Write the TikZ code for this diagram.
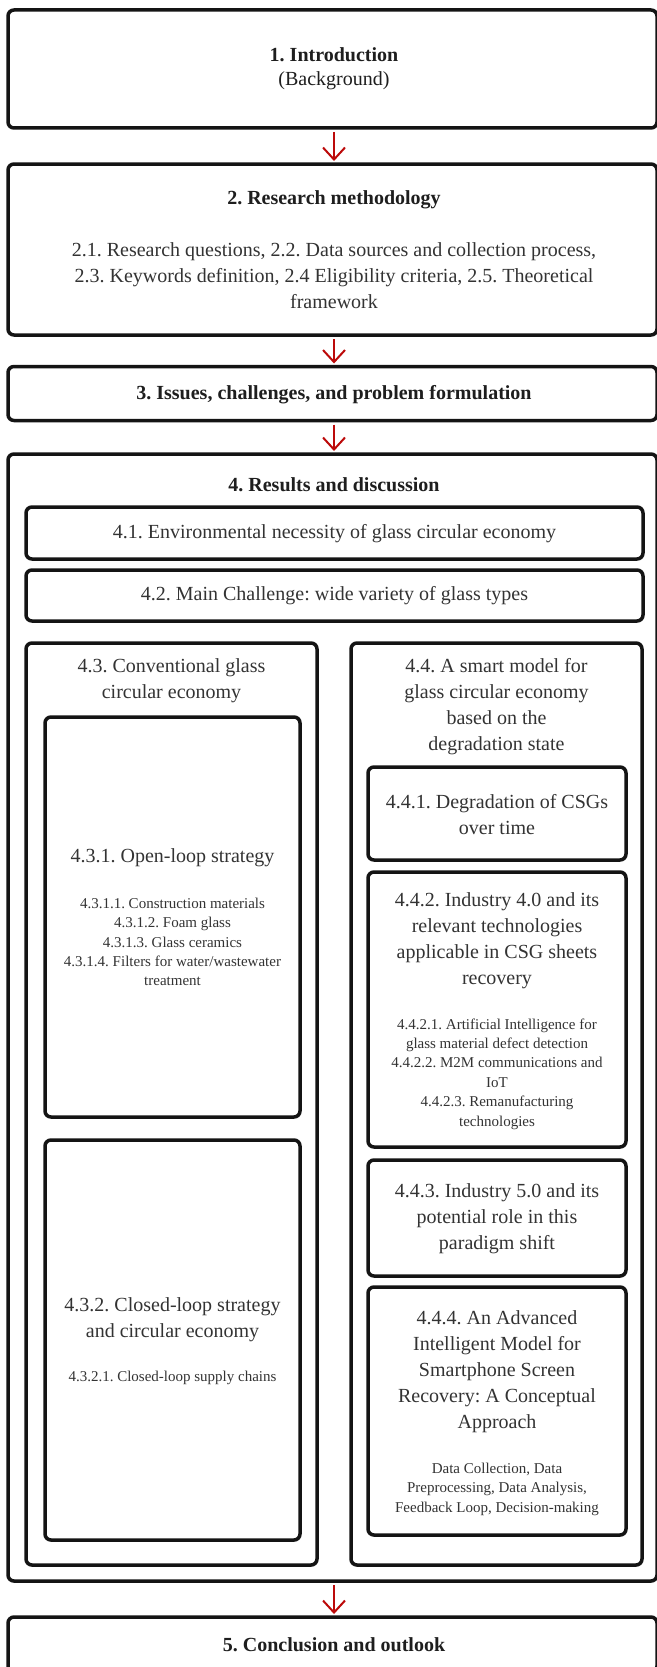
\documentclass[tikz,border=0pt]{standalone}
\usepackage{fontspec}
\setmainfont{Liberation Serif}
\usetikzlibrary{arrows.meta}
\definecolor{arrowred}{HTML}{BC0A0A}
\definecolor{txt}{HTML}{333333}
\definecolor{headc}{HTML}{1E1E1E}
\frenchspacing
\begin{document}
\begin{tikzpicture}[x=1pt,y=-1pt,
  box/.style={draw=black!92, line width=3.5pt, rounded corners=6pt, inner sep=0pt, outer sep=0pt},
  big/.style={font=\fontsize{20}{26}\selectfont, text=txt, align=center, inner sep=0pt},
  head/.style={font=\fontsize{20}{25}\selectfont\bfseries, text=headc, align=center, inner sep=0pt},
  small/.style={font=\fontsize{15}{19.4}\selectfont, text=txt, align=center, inner sep=0pt},
  flow/.style={draw=arrowred, line width=2pt, shorten <=4pt, shorten >=3pt,
    -{Straight Barb[length=12pt,width=22pt,line width=2pt]}}
]
\useasboundingbox (0,0) rectangle (656,1667);
\fill[white] (0,0) rectangle (656,1667);
\coordinate (ax) at (334,0);

% outer boxes
\node[box, minimum width=649pt, minimum height=118pt] (b1) at (332.5,69) {};
\node[box, minimum width=649pt, minimum height=171pt] (b2) at (332.5,249.5) {};
\node[box, minimum width=649pt, minimum height=54pt] (b3) at (332.5,393.5) {};
\node[box, minimum width=649pt, minimum height=1127pt] (b4) at (332.5,1017.5) {};
\node[box, minimum width=649pt, minimum height=55pt] (b5) at (332.5,1644.5) {};

% inner boxes
\node[box, minimum width=617pt, minimum height=52pt] (b41) at (334.5,533) {};
\node[box, minimum width=617pt, minimum height=51pt] (b42) at (334.5,595.5) {};
\node[box, minimum width=291pt, minimum height=922pt] (b43) at (171.5,1104) {};
\node[box, minimum width=291pt, minimum height=922pt] (b44) at (496.5,1104) {};
\node[box, minimum width=255pt, minimum height=400pt] (b431) at (172.5,917) {};
\node[box, minimum width=255pt, minimum height=400pt] (b432) at (172.5,1340) {};
\node[box, minimum width=258pt, minimum height=93pt] (b441) at (497,813.5) {};
\node[box, minimum width=258pt, minimum height=275pt] (b442) at (497,1009.5) {};
\node[box, minimum width=258pt, minimum height=116pt] (b443) at (497,1218) {};
\node[box, minimum width=258pt, minimum height=248pt] (b444) at (497,1411) {};

% texts
\node[head] (t1) at (334,69) {1. Introduction\\[-1pt]\mdseries (Background)};
\node[head] (t2h) at (334,200) {2. Research methodology};
\node[big] (t2) at (334,276) {2.1. Research questions, 2.2. Data sources and collection process,\\2.3. Keywords definition, 2.4 Eligibility criteria, 2.5. Theoretical\\framework};
\node[head] (t3) at (334,395) {3. Issues, challenges, and problem formulation};
\node[head] (t4) at (334,485) {4. Results and discussion};
\node[big] (t41) at (334.5,534) {4.1. Environmental necessity of glass circular economy};
\node[big] (t42) at (334.5,596) {4.2. Main Challenge: wide variety of glass types};
\node[big] (t43) at (171.5,681) {4.3. Conventional glass\\circular economy};
\node[big] (t431) at (172.5,858) {4.3.1. Open-loop strategy};
\node[small] (t431s) at (172.5,942) {4.3.1.1. Construction materials\\4.3.1.2. Foam glass\\4.3.1.3. Glass ceramics\\4.3.1.4. Filters for water/wastewater\\treatment};
\node[big] (t432) at (172.5,1320) {4.3.2. Closed-loop strategy\\and circular economy};
\node[small] (t432s) at (172.5,1378) {4.3.2.1. Closed-loop supply chains};
\node[big] (t44) at (496.5,707) {4.4. A smart model for\\glass circular economy\\based on the\\degradation state};
\node[big] (t441) at (497,815) {4.4.1. Degradation of CSGs\\over time};
\node[big] (t442) at (497,941) {4.4.2. Industry 4.0 and its\\relevant technologies\\applicable in CSG sheets\\recovery};
\node[small] (t442s) at (497,1074) {4.4.2.1. Artificial Intelligence for\\glass material defect detection\\4.4.2.2. M2M communications and\\IoT\\4.4.2.3. Remanufacturing\\technologies};
\node[big] (t443) at (497,1219) {4.4.3. Industry 5.0 and its\\potential role in this\\paradigm shift};
\node[big] (t444) at (497,1372) {4.4.4. An Advanced\\Intelligent Model for\\Smartphone Screen\\Recovery: A Conceptual\\Approach};
\node[small] (t444s) at (497,1489) {Data Collection, Data\\Preprocessing, Data Analysis,\\Feedback Loop, Decision-making};
\node[head] (t5) at (334,1645) {5. Conclusion and outlook};

% connectors
\draw[flow] (b1.south -| ax) -- (b2.north -| ax);
\draw[flow] (b2.south -| ax) -- (b3.north -| ax);
\draw[flow] (b3.south -| ax) -- (b4.north -| ax);
\draw[flow] (b4.south -| ax) -- (b5.north -| ax);
\end{tikzpicture}
\end{document}
